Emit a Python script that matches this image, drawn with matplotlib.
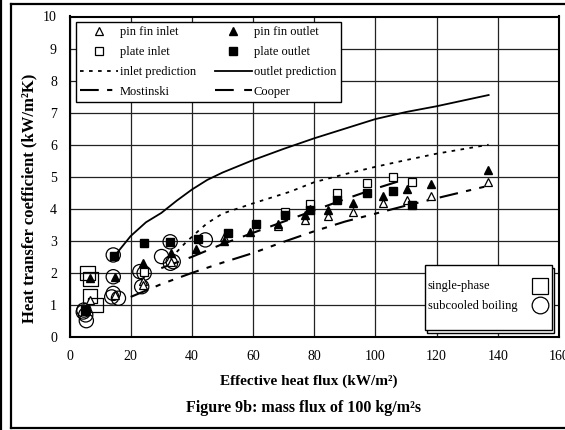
import matplotlib
matplotlib.use('Agg')
import matplotlib.pyplot as plt
from matplotlib.lines import Line2D
from matplotlib.patches import Rectangle

plt.rcParams['font.family'] = ['Liberation Serif', 'DejaVu Serif']

# ---------------- data ----------------
pf_in_x = [5.5, 6.7, 15, 24.1, 24.1, 33.2, 50.5, 68.3, 77.0, 84.6, 92.8, 102.6, 110.4, 118, 136.9]
pf_in_y = [0.8, 1.15, 1.3, 1.75, 1.62, 2.35, 3.13, 3.46, 3.65, 3.79, 3.91, 4.17, 4.28, 4.39, 4.85]

pf_out_x = [5.2, 6.7, 15, 24.1, 33.2, 41.5, 50.5, 59, 68.3, 77.0, 78.6, 84.6, 92.8, 102.6, 110.4, 118, 136.9]
pf_out_y = [0.84, 1.85, 1.88, 2.3, 2.63, 2.74, 3.0, 3.29, 3.52, 3.81, 3.98, 3.96, 4.19, 4.4, 4.61, 4.76, 5.21]

pl_in_x = [24.4, 70.4, 78.6, 87.3, 97.1, 105.6, 111.9]
pl_in_y = [2.04, 3.91, 4.15, 4.48, 4.79, 5.0, 4.83]

pl_out_x = [5.2, 14.7, 24.4, 33, 42, 51.9, 61, 70.4, 78.6, 87.3, 97.1, 105.6, 111.9]
pl_out_y = [0.84, 2.54, 2.92, 2.97, 3.05, 3.24, 3.53, 3.81, 3.96, 4.27, 4.48, 4.56, 4.12]

inlet_pred_x = [33, 38, 42, 45, 50, 60, 72, 80, 90, 100, 110, 120, 137]
inlet_pred_y = [2.45, 2.95, 3.3, 3.55, 3.85, 4.17, 4.53, 4.83, 5.08, 5.31, 5.52, 5.72, 6.0]

outlet_pred_x = [15.5, 20, 25, 30, 35, 40, 45, 50, 60, 70, 80, 90, 100, 110, 120, 137]
outlet_pred_y = [2.62, 3.15, 3.58, 3.87, 4.25, 4.6, 4.9, 5.13, 5.52, 5.87, 6.2, 6.5, 6.8, 7.02, 7.2, 7.55]

most_x = [20, 25, 30, 40, 50, 60, 70, 80, 90, 100, 110, 120, 137]
most_y = [1.25, 1.45, 1.65, 2.0, 2.32, 2.62, 2.97, 3.3, 3.6, 3.85, 4.1, 4.33, 4.72]

cooper_x = [30, 40, 45, 50, 60, 70, 80, 90, 100, 110]
cooper_y = [2.15, 2.5, 2.7, 2.9, 3.25, 3.6, 3.95, 4.3, 4.63, 4.93]

single_x = [5.9, 6.9, 6.7, 8.5]
single_y = [2.0, 1.8, 1.28, 1.0]

boil_x = [4.7, 5.3, 5.5, 4.5, 14.3, 14.3, 14.3, 13.8, 16.0, 23.0, 24.4, 23.6, 30.1, 32.9, 33.9, 33.0, 44.4]
boil_y = [0.84, 0.69, 0.51, 0.78, 2.56, 1.88, 1.36, 1.25, 1.21, 2.04, 1.99, 1.57, 2.51, 2.97, 2.35, 2.3, 3.03]

x_ticks = [0, 20, 40, 60, 80, 100, 120, 140, 160]
y_ticks = [0, 1, 2, 3, 4, 5, 6, 7, 8, 9, 10]

# ---------------- figure ----------------
W, H = 565, 430
fig = plt.figure(figsize=(W / 100, H / 100), dpi=100)
L, R, T, B = 69.5, 559, 16.5, 337
ax = fig.add_axes([L / W, 1 - B / H, (R - L) / W, (B - T) / H])

# outer frame
fig.add_artist(Line2D([11 / W, 11 / W], [1 - 428 / H, 1 - 4.3 / H], color='black', lw=1.6))
fig.add_artist(Line2D([11 / W, 1], [1 - 4.3 / H, 1 - 4.3 / H], color='black', lw=1.6))
fig.add_artist(Line2D([11 / W, 1], [1 - 428 / H, 1 - 428 / H], color='black', lw=1.6))
fig.add_artist(Line2D([1 / W, 1 / W], [0, 1], color='black', lw=1.6))

ax.set_xlim(0, 160)
ax.set_ylim(0, 10)
ax.set_xticks(x_ticks)
ax.set_yticks(y_ticks)
ax.grid(True, color='#222222', lw=0.9)
ax.set_axisbelow(True)
ax.tick_params(length=0, labelsize=10)
ax.tick_params(axis='y', pad=9)
ax.tick_params(axis='x', pad=9)
for s in ax.spines.values():
    s.set_linewidth(1.5)
    s.set_color('black')

lw = 1.3
ax.plot(outlet_pred_x, outlet_pred_y, color='black', lw=lw, label='outlet prediction', zorder=3)
ax.plot(inlet_pred_x, inlet_pred_y, color='black', lw=lw, ls=(0, (2, 3)), label='inlet prediction', zorder=3)
ax.plot(most_x, most_y, color='black', lw=1.5, ls=(0, (9, 4, 2.5, 4, 2.5, 4)), label='Mostinski', zorder=3)
ax.plot(cooper_x, cooper_y, color='black', lw=1.5, ls=(0, (9, 5)), label='Cooper', zorder=3)

ax.scatter(single_x, single_y, marker='s', s=105, facecolors='none', edgecolors='black', lw=0.9, zorder=4)
ax.scatter(boil_x, boil_y, marker='o', s=105, facecolors='none', edgecolors='black', lw=0.9, zorder=4)

ms = 6
ax.plot(pf_in_x, pf_in_y, ls='none', marker='^', ms=ms, mfc='white', mec='black', mew=0.9, zorder=5)
ax.plot(pl_in_x, pl_in_y, ls='none', marker='s', ms=ms - 0.5, mfc='white', mec='black', mew=0.9, zorder=5)
ax.plot(pf_out_x, pf_out_y, ls='none', marker='^', ms=ms, mfc='black', mec='black', zorder=6)
ax.plot(pl_out_x, pl_out_y, ls='none', marker='s', ms=ms - 0.5, mfc='black', mec='black', zorder=6)

# legend 1
h = [
    Line2D([], [], ls='none', marker='^', ms=ms, mfc='white', mec='black', mew=0.9),
    Line2D([], [], ls='none', marker='s', ms=ms - 0.5, mfc='white', mec='black', mew=0.9),
    Line2D([], [], color='black', lw=lw, ls=(0, (2, 3))),
    Line2D([], [], color='black', lw=1.5, ls=(0, (9, 4, 2.5, 4, 2.5, 4))),
    Line2D([], [], ls='none', marker='^', ms=ms, mfc='black', mec='black'),
    Line2D([], [], ls='none', marker='s', ms=ms - 0.5, mfc='black', mec='black'),
    Line2D([], [], color='black', lw=lw),
    Line2D([], [], color='black', lw=1.5, ls=(0, (9, 5))),
]
labels = ['pin fin inlet', 'plate inlet', 'inlet prediction', 'Mostinski',
          'pin fin outlet', 'plate outlet', 'outlet prediction', 'Cooper']
leg1 = ax.legend(h, labels, ncol=2, loc='upper left',
                 bbox_to_anchor=((76 - L) / (R - L), (B - 22) / (B - T)),
                 fontsize=9, frameon=True, fancybox=False, framealpha=1,
                 edgecolor='black', handlelength=3.0, handletextpad=0.15,
                 columnspacing=1.5, labelspacing=0.62, borderpad=0.35,
                 borderaxespad=0)
leg1.get_frame().set_linewidth(1.0)
leg1.set_zorder(10)

# legend 2 (drawn as box + texts + markers in axes fraction)
def px2ax(xp, yp):
    return (xp - L) / (R - L), (B - yp) / (B - T)

x0, y1 = px2ax(425, 330)
x1, y0 = px2ax(552, 265)
sx, sy = px2ax(427, 332.5)
ax.add_patch(Rectangle((sx, sy), x1 - x0, y0 - y1, transform=ax.transAxes,
                       facecolor='white', edgecolor='black', lw=1.0, zorder=10, clip_on=False))
ax.add_patch(Rectangle((x0, y1), x1 - x0, y0 - y1, transform=ax.transAxes,
                       facecolor='white', edgecolor='black', lw=1.0, zorder=11, clip_on=False))
for lab, yp, mk in [('single-phase', 286, 's'), ('subcooled boiling', 305.5, 'o')]:
    tx, ty = px2ax(428, yp)
    ax.text(tx, ty, lab, transform=ax.transAxes, ha='left', va='center', fontsize=9, zorder=12)
    mx, my = px2ax(540, yp - 0.5)
    ax.add_line(Line2D([mx], [my], transform=ax.transAxes, ls='none', marker=mk, ms=12,
                       mfc='none', mec='black', mew=0.9, zorder=12))

# labels
fig.text(29 / W, 1 - 198 / H, 'Heat transfer coefficient (kW/m²K)', rotation=90,
         ha='center', va='center', fontsize=12, fontweight='bold')
fig.text(309 / W, 1 - 381 / H, 'Effective heat flux (kW/m²)', ha='center', va='center',
         fontsize=11, fontweight='bold')
fig.text(304 / W, 1 - 408 / H, 'Figure 9b: mass flux of 100 kg/m²s', ha='center', va='center',
         fontsize=11.5, fontweight='bold')

fig.savefig('out.png', dpi=100)
